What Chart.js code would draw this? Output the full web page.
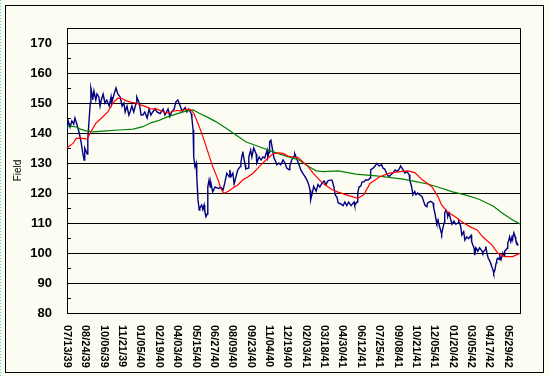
<!DOCTYPE html>
<html>
<head>
<meta charset="utf-8">
<script src="https://cdn.jsdelivr.net/npm/chart.js@4"></script>
<style>
  html, body { margin: 0; padding: 0; background: #fcfcf3; }
  #wrap { width: 549px; height: 377px; }
</style>
</head>
<body>
<div id="wrap"><canvas id="grafica" width="549" height="377"></canvas></div>
<script>
// etiquetas del eje x, una cada 30 dias de mercado
const tickLabels = ["07/13/39", "08/24/39", "10/06/39", "11/21/39", "01/05/40", "02/19/40",
  "04/03/40", "05/15/40", "06/27/40", "08/09/40", "09/23/40", "11/04/40", "12/19/40",
  "02/03/41", "03/18/41", "04/30/41", "06/12/41", "07/25/41", "09/08/41", "10/21/41",
  "12/05/41", "01/20/42", "03/05/42", "04/17/42", "05/29/42"];
const daysPerLabel = 30;

// serie diaria (azul): dia de mercado y valor
const priceDays = [0, 2, 5, 8, 11, 13, 16, 20, 23, 26, 28, 29, 33, 34, 36, 38, 39, 41, 42, 44,
  47, 49, 52, 54, 56, 59, 62, 65, 69, 72, 73, 77, 80, 83, 87, 90, 93, 95, 98, 101,
  103, 106, 109, 113, 114, 118, 121, 124, 127, 131, 134, 137, 140, 144, 147, 152, 157, 160, 165, 168,
  171, 175, 178, 181, 185, 188, 193, 196, 199, 203, 204, 206, 207, 209, 211, 212, 214, 216, 217, 220,
  222, 224, 225, 227, 229, 230, 232, 234, 235, 238, 242, 245, 248, 251, 255, 258, 261, 265, 266, 268,
  271, 273, 276, 279, 283, 284, 286, 287, 291, 292, 296, 297, 300, 302, 305, 309, 310, 314, 317, 320,
  323, 327, 328, 330, 331, 333, 335, 338, 341, 343, 346, 349, 353, 356, 359, 363, 364, 367, 371, 372,
  376, 379, 382, 385, 389, 392, 395, 397, 398, 400, 403, 407, 410, 413, 416, 420, 423, 426, 429, 433,
  436, 438, 441, 443, 446, 447, 451, 454, 457, 460, 464, 469, 470, 474, 475, 477, 480, 482, 485, 488,
  492, 495, 496, 500, 503, 506, 510, 514, 516, 519, 523, 526, 529, 532, 536, 539, 542, 545, 549, 552,
  555, 559, 560, 563, 565, 568, 570, 573, 576, 580, 583, 585, 588, 589, 594, 598, 599, 601, 603, 604,
  606, 607, 611, 612, 614, 616, 617, 619, 621, 622, 624, 627, 629, 632, 635, 639, 640, 643, 645, 648,
  650, 653, 656, 660, 661, 663, 665, 666, 668, 671, 674, 678, 679, 683, 684, 686, 688, 691, 692, 694,
  696, 697, 699, 701, 702, 704, 706, 707, 709, 712, 714, 715, 719, 720, 722, 723, 725, 727, 728, 730,
  732, 733, 735, 736, 738];
const priceVals = [141, 144, 142, 144, 143, 145, 143, 140, 137, 133, 131, 135, 133, 138, 144, 150, 155, 153, 151, 154,
  151, 153, 152, 149, 151, 153, 150, 151, 149, 152, 150, 153, 155, 153, 152, 149, 150, 147, 149, 146,
  147, 149, 147, 150, 152, 150, 146, 146, 147, 145, 148, 146, 147, 148, 147, 146.5, 148, 146, 148, 145.5,
  147, 148, 150.4, 151, 149, 147.3, 148.5, 147, 148, 146.4, 145, 141, 132, 128.8, 130, 125.4, 117.7, 114.3, 115, 116,
  114.5, 116, 114, 112.1, 113, 122, 124.3, 122, 123.4, 120.4, 122, 121.7, 121.5, 122, 121, 123.6, 126.6, 125.4, 127.7, 125.5,
  126.6, 123, 125.4, 127.7, 128.8, 130, 132.7, 133.8, 129.4, 128, 128.3, 132, 134.3, 132, 135, 133, 130, 132, 131, 132,
  131.7, 134.3, 132, 133.5, 137.1, 137.6, 135.4, 131.7, 130.5, 129.4, 130, 129.4, 131, 130, 128.3, 127.7, 129, 131, 132.3, 133.1,
  131, 129.4, 127.7, 126.6, 125.4, 124.3, 122.7, 121, 117.7, 119.4, 122.2, 120.6, 122.8, 122, 123.1, 124, 122.8, 124, 124.3, 124.3,
  122, 119.4, 118.6, 116.7, 116.5, 116.5, 115.8, 117, 115.8, 117, 115.8, 117, 116, 117, 120, 122, 122.3, 123.7, 123.7, 124.4,
  124.3, 125, 127.7, 128.3, 128.9, 129.9, 129, 129.4, 128.3, 128, 126.1, 125.5, 126.1, 126.6, 127.7, 127.2, 127.7, 129, 127.7, 126.6,
  127.2, 126.1, 124.3, 122, 119.4, 120.5, 119.4, 120, 119.4, 118.8, 117, 115.9, 115.4, 116.7, 117.2, 116.7, 115, 113.3, 111, 110,
  111, 110, 107.1, 106.4, 108.3, 110, 113.3, 114.3, 113.3, 112.2, 113.3, 111, 109.6, 110.6, 109.6, 110, 110.6, 109, 106, 107.1,
  104.3, 105.4, 104.8, 105.9, 103.8, 102.7, 101.7, 99.3, 101.7, 100.6, 101.7, 100.6, 100, 101.1, 102.2, 100, 98.3, 97.2, 97.2, 95.4,
  94.3, 93.3, 94.3, 96.7, 97.8, 98.3, 97.8, 99, 97.8, 100, 99, 100.6, 101.6, 103.3, 104.4, 105.4, 103.8, 105.4, 105, 106.7,
  105.4, 104.4, 103.3, 102.7, 102.7];

// promedio corto (rojo)
const fastDays = [0, 10, 15, 21, 33, 39, 47, 56, 67, 75, 83, 90, 96, 105, 113, 121, 129, 137, 145, 157,
  162, 170, 178, 186, 194, 202, 207, 214, 222, 230, 238, 247, 251, 256, 263, 271, 279, 287, 296, 304,
  314, 325, 336, 345, 353, 361, 369, 377, 385, 394, 402, 410, 418, 426, 434, 443, 459, 475, 485, 495,
  511, 527, 544, 557, 568, 581, 596, 606, 612, 621, 634, 645, 658, 670, 679, 694, 704, 715, 728, 740];
const fastVals = [135, 136.6, 138.2, 138.3, 138, 140.4, 143.2, 144.9, 147.1, 150, 151.6, 151.5, 150.8, 150.2, 150, 149.3, 148.8, 148, 148.1, 147.1,
  146.6, 147, 147.5, 147.4, 147.9, 147.8, 146.6, 143.2, 138.8, 133.8, 128.8, 124.3, 121.6, 119.9, 120.5, 121.7, 122.7, 124.3, 125.4, 126.6,
  128.8, 131, 133, 133.4, 133.2, 132.3, 132, 131.9, 130.4, 128.8, 126.6, 124.9, 123.2, 122.1, 121, 120.3, 119.2, 118.2, 119.5, 123.2,
  125.4, 126.6, 127.1, 127.4, 126.8, 124.3, 122.1, 118.8, 116, 113.8, 112.1, 110.4, 108.8, 107.7, 105.4, 102.7, 99.9, 98.8, 98.8, 99.9];

// promedio largo (verde)
const slowDays = [0, 7, 15, 23, 31, 42, 64, 85, 108, 124, 137, 149, 162, 178, 194, 206, 216, 230, 243, 260,
  276, 292, 314, 336, 358, 379, 395, 407, 418, 443, 472, 505, 526, 549, 570, 589, 607, 630, 652, 673,
  696, 712, 728, 740];
const slowVals = [142.1, 142.3, 142, 141.2, 140.7, 140.4, 140.7, 141, 141.3, 142.1, 143.4, 144.1, 145.2, 146.3, 147.3, 147.7, 146.6, 145.2, 143.8, 141.6,
  139.3, 137.1, 135.4, 133.8, 132.3, 131, 128.8, 127.4, 127.1, 127.4, 126.3, 125.7, 125.2, 124.6, 123.8, 123, 121.9, 120.4, 119.3, 117.9,
  115.7, 113.2, 111, 109.7];

function toPoints(days, vals) {
  return days.map((d, i) => ({ x: d, y: vals[i] }));
}

const fontName = "'Liberation Sans', Arial, sans-serif";

// fondo, marcos, marcas menores y etiquetas giradas del eje x
const decorPlugin = {
  id: "decor",
  beforeDraw(chart) {
    const ctx = chart.ctx;
    ctx.save();
    ctx.fillStyle = "#fcfcf3";
    ctx.fillRect(0, 0, chart.width, chart.height);
    ctx.restore();
  },
  afterDraw(chart) {
    const ctx = chart.ctx;
    const area = chart.chartArea;
    const xs = chart.scales.x;
    const ys = chart.scales.y;
    ctx.save();

    // marco exterior
    ctx.strokeStyle = "#000";
    ctx.lineWidth = 1;
    ctx.strokeRect(5.5, 5.5, 538, 367);

    // borde punteado cian a la izquierda
    ctx.strokeStyle = "#30d8e8";
    ctx.setLineDash([1, 2]);
    ctx.beginPath();
    ctx.moveTo(0.5, 0);
    ctx.lineTo(0.5, chart.height);
    ctx.stroke();
    ctx.setLineDash([]);

    // borde superior y derecho del area
    ctx.strokeStyle = "#000";
    ctx.beginPath();
    ctx.moveTo(Math.round(area.left) + 0.5, Math.round(area.top) + 0.5);
    ctx.lineTo(Math.round(area.right) + 0.5, Math.round(area.top) + 0.5);
    ctx.lineTo(Math.round(area.right) + 0.5, Math.round(area.bottom) + 0.5);
    ctx.stroke();

    // marcas menores en el eje y
    for (let v = 85; v < 175; v += 10) {
      const y = Math.round(ys.getPixelForValue(v)) + 0.5;
      ctx.beginPath();
      ctx.moveTo(area.left, y);
      ctx.lineTo(area.left + 4, y);
      ctx.stroke();
    }

    // etiquetas del eje x, giradas 90 grados
    ctx.fillStyle = "#000";
    ctx.font = "bold 11px " + fontName;
    ctx.textAlign = "left";
    ctx.textBaseline = "middle";
    tickLabels.forEach((lab, i) => {
      const x = xs.getPixelForValue(i * daysPerLabel);
      ctx.save();
      ctx.translate(x, area.bottom + 12);
      ctx.rotate(Math.PI / 2);
      ctx.fillText(lab, 0, 0);
      ctx.restore();
    });
    ctx.restore();
  },
};

const ctx = document.getElementById("grafica");
const grafica = new Chart(ctx, {
  type: "line",
  data: {
    datasets: [
      {
        label: "Promedio corto",
        data: toPoints(fastDays, fastVals),
        borderColor: "#ff0000",
        borderWidth: 1.2,
        pointRadius: 0,
        tension: 0,
        fill: false,
      },
      {
        label: "Promedio largo",
        data: toPoints(slowDays, slowVals),
        borderColor: "#008000",
        borderWidth: 1.2,
        pointRadius: 0,
        tension: 0,
        fill: false,
      },
      {
        label: "Field",
        data: toPoints(priceDays, priceVals),
        borderColor: "#000080",
        borderWidth: 1.4,
        pointRadius: 0,
        tension: 0,
        fill: false,
      },
    ],
  },
  options: {
    responsive: false,
    animation: false,
    layout: { padding: { left: 0, top: 28, right: 29, bottom: 0 } },
    plugins: {
      legend: { display: false },
      tooltip: { enabled: false },
    },
    scales: {
      x: {
        type: "linear",
        min: 0,
        max: 740,
        ticks: { display: false },
        grid: { display: false, drawTicks: false },
        border: { display: true, color: "#000", width: 1 },
        afterFit(scale) {
          scale.height = 64;
        },
      },
      y: {
        min: 80,
        max: 175,
        ticks: {
          stepSize: 5,
          padding: 15,
          color: "#000",
          font: { family: fontName, size: 13, weight: "bold" },
          callback: (v) => (v % 10 === 0 && v <= 170 ? v : ""),
        },
        grid: {
          drawTicks: false,
          lineWidth: 1,
          color: (c) => (c.tick && c.tick.value % 10 === 0 ? "#000" : "rgba(0,0,0,0)"),
        },
        border: { display: true, color: "#000", width: 1 },
        title: {
          display: true,
          text: "Field",
          color: "#000",
          font: { family: fontName, size: 10 },
          padding: { top: 12, bottom: 0 },
        },
        afterFit(scale) {
          scale.width = 67;
        },
      },
    },
  },
  plugins: [decorPlugin],
});
</script>
</body>
</html>
